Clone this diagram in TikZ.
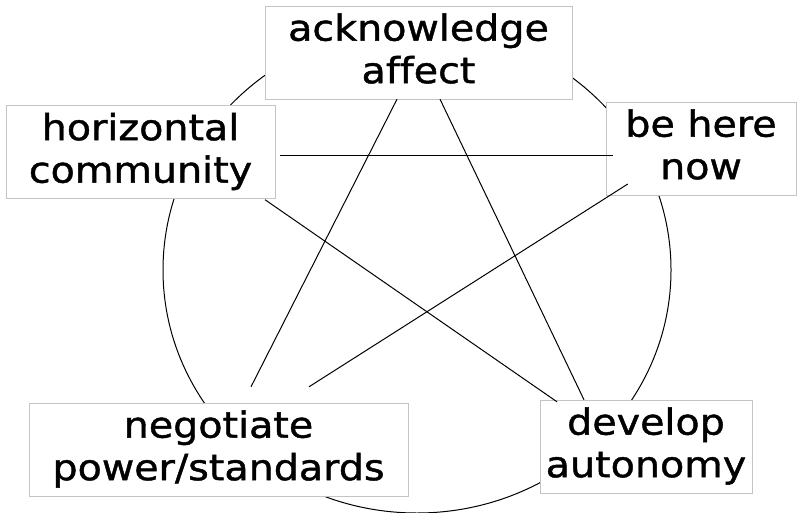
\documentclass[tikz,border=0pt]{standalone}
\usepackage{fontspec}
\setmainfont{DejaVu Sans}[FakeStretch=1.1,FakeBold=1.2,Ligatures=NoCommon]

\begin{document}
\begin{tikzpicture}[x=1pt,y=-1pt,
  mybox/.style={draw=boxgray,fill=white,align=center,inner sep=0pt,minimum height=93,
    font=\fontsize{36}{42.5}\selectfont,
    execute at end node={\vrule width 0pt depth 8.5pt}},
  myline/.style={line width=1pt}]
\definecolor{boxgray}{HTML}{C4C4C4}
\useasboundingbox (0,0) rectangle (797,513);
% the circle behind the boxes
\draw [myline] (417,270) ellipse [x radius=254pt, y radius=243pt];
\node [mybox,minimum width=307] (ack) at (418.5,52.5) {acknowledge\\affect};
\node [mybox,minimum width=269] (horiz) at (140.5,152) {horizontal\\community};
\node [mybox,minimum width=190] (behere) at (701,148.5) {be here\\now};
\node [mybox,minimum width=379] (neg) at (218.5,449.5) {negotiate\\power/standards};
\node [mybox,minimum width=212] (dev) at (646,446.5) {develop\\autonomy};
% the star
\draw [myline] ([xshift=5pt,yshift=-4pt]horiz.east) -- ([xshift=7pt,yshift=-7.5pt]behere.west);
\draw [myline] ([xshift=-21.5pt]ack.south) -- ([xshift=32.5pt,yshift=16pt]neg.north);
\draw [myline] ([xshift=21.5pt]ack.south) -- ([xshift=-62pt]dev.north);
\draw [myline] ([xshift=124.5pt,yshift=-1pt]horiz.south) -- ([xshift=-89pt,yshift=-2pt]dev.north);
\draw [myline] ([xshift=22pt,yshift=-35.5pt]behere.west) -- ([xshift=90.5pt,yshift=16pt]neg.north);
\end{tikzpicture}
\end{document}
